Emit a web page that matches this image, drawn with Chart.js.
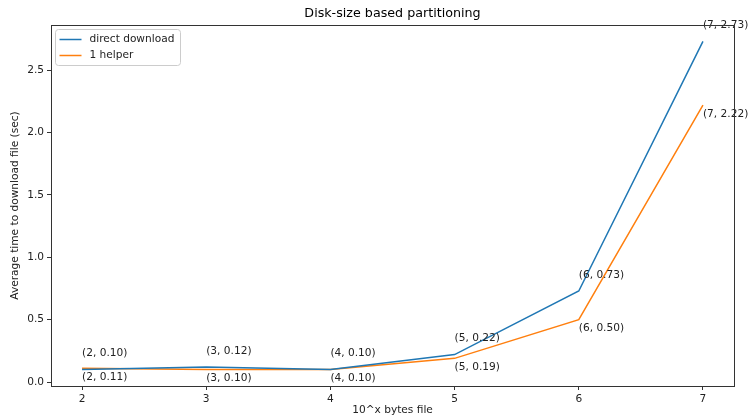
<!DOCTYPE html>
<html>
<head>
<meta charset="utf-8">
<script src="https://cdn.jsdelivr.net/npm/chart.js@4"></script>
<style>
    html, body { margin: 0; padding: 0; background: #fff; }
    canvas { display: block; }
</style>
</head>
<body>
<canvas id="diskChart" width="748" height="417"></canvas>
<script>
// data
const fileSizeExp = [2, 3, 4, 5, 6, 7];
const directDownload = [0.10, 0.12, 0.10, 0.22, 0.73, 2.73];
const oneHelper = [0.11, 0.10, 0.10, 0.19, 0.50, 2.22];
const xTicks = [2, 3, 4, 5, 6, 7];
const yTicks = [0.0, 0.5, 1.0, 1.5, 2.0, 2.5];

const FONT = "'DejaVu Sans', sans-serif";
const FS = 10.6;
const BLUE = '#1f77b4';
const ORANGE = '#ff7f0e';

// point labels like "(5, 0.22)" — blue above, orange below
const pointLabels = {
    id: 'pointLabels',
    afterDatasetsDraw(chart) {
        const ctx = chart.ctx;
        const xs = chart.scales.x, ys = chart.scales.y;
        ctx.save();
        ctx.font = FS + 'px ' + FONT;
        ctx.fillStyle = '#222';
        ctx.textAlign = 'left';
        ctx.textBaseline = 'middle';
        chart.data.datasets.forEach((ds, i) => {
            const dy = i === 0 ? -16 : 9;
            ds.data.forEach(p => {
                const px = xs.getPixelForValue(p.x);
                const py = ys.getPixelForValue(p.y);
                ctx.fillText('(' + p.x + ', ' + p.y.toFixed(2) + ')', px, py + dy);
            });
        });
        ctx.restore();
    }
};

// title over the plot area, top/right spines, matplotlib style legend box
const frameAndLegend = {
    id: 'frameAndLegend',
    afterDraw(chart) {
        const ctx = chart.ctx;
        const a = chart.chartArea;
        ctx.save();

        ctx.font = '12.7px ' + FONT;
        ctx.fillStyle = '#000';
        ctx.textAlign = 'center';
        ctx.textBaseline = 'middle';
        ctx.fillText('Disk-size based partitioning', (a.left + a.right) / 2, 14);

        ctx.strokeStyle = '#333';
        ctx.lineWidth = 1;
        ctx.beginPath();
        ctx.moveTo(Math.round(a.left) + 0.5, Math.round(a.top) + 0.5);
        ctx.lineTo(Math.round(a.right) + 0.5, Math.round(a.top) + 0.5);
        ctx.lineTo(Math.round(a.right) + 0.5, Math.round(a.bottom) + 0.5);
        ctx.stroke();

        // legend
        const lx = Math.round(a.left) + 4.5, ly = Math.round(a.top) + 4.5;
        const w = 125, h = 36, r = 3;
        ctx.fillStyle = 'rgba(255,255,255,0.8)';
        ctx.strokeStyle = '#cccccc';
        ctx.beginPath();
        ctx.roundRect(lx, ly, w, h, r);
        ctx.fill();
        ctx.stroke();

        ctx.font = FS + 'px ' + FONT;
        ctx.textAlign = 'left';
        chart.data.datasets.forEach((ds, i) => {
            const yy = ly + 10 + i * 16;
            ctx.strokeStyle = ds.borderColor;
            ctx.lineWidth = 1.5;
            ctx.beginPath();
            ctx.moveTo(lx + 4, yy);
            ctx.lineTo(lx + 26, yy);
            ctx.stroke();
            ctx.fillStyle = '#222';
            ctx.fillText(ds.label, lx + 34, yy);
        });
        ctx.restore();
    }
};

const ctx = document.getElementById('diskChart').getContext('2d');
new Chart(ctx, {
    type: 'line',
    data: {
        datasets: [{
            label: 'direct download',
            data: fileSizeExp.map((x, i) => ({ x: x, y: directDownload[i] })),
            borderColor: BLUE,
            backgroundColor: BLUE,
            borderWidth: 1.5,
            pointRadius: 0,
            tension: 0
        }, {
            label: '1 helper',
            data: fileSizeExp.map((x, i) => ({ x: x, y: oneHelper[i] })),
            borderColor: ORANGE,
            backgroundColor: ORANGE,
            borderWidth: 1.5,
            pointRadius: 0,
            tension: 0
        }]
    },
    options: {
        responsive: false,
        animation: false,
        devicePixelRatio: 1,
        layout: { padding: { right: 14, left: 0, bottom: 0, top: 25 } },
        plugins: {
            legend: { display: false },
            tooltip: { enabled: false },
            title: { display: false }
        },
        scales: {
            x: {
                type: 'linear',
                min: 1.75,
                max: 7.25,
                afterBuildTicks: s => { s.ticks = xTicks.map(v => ({ value: v })); },
                afterFit: s => { s.height = 31; },
                grid: { drawOnChartArea: false, drawTicks: true, tickLength: 4, color: '#333' },
                border: { display: true, color: '#333', width: 1 },
                ticks: {
                    color: '#222',
                    padding: 3,
                    maxRotation: 0,
                    font: { family: FONT, size: FS },
                    callback: v => String(v)
                },
                title: {
                    display: true,
                    text: '10^x bytes file',
                    color: '#222',
                    font: { family: FONT, size: FS },
                    padding: { top: 0, bottom: 0 }
                }
            },
            y: {
                type: 'linear',
                min: -0.0315,
                max: 2.8615,
                afterBuildTicks: s => { s.ticks = yTicks.map(v => ({ value: v })); },
                afterFit: s => { s.width = 51; },
                grid: { drawOnChartArea: false, drawTicks: true, tickLength: 4, color: '#333' },
                border: { display: true, color: '#333', width: 1 },
                ticks: {
                    color: '#222',
                    padding: 3,
                    font: { family: FONT, size: FS },
                    callback: v => v.toFixed(1)
                },
                title: {
                    display: true,
                    text: 'Average time to download file (sec)',
                    color: '#222',
                    font: { family: FONT, size: FS },
                    padding: { top: 9, bottom: 0 }
                }
            }
        }
    },
    plugins: [pointLabels, frameAndLegend]
});
</script>
</body>
</html>
